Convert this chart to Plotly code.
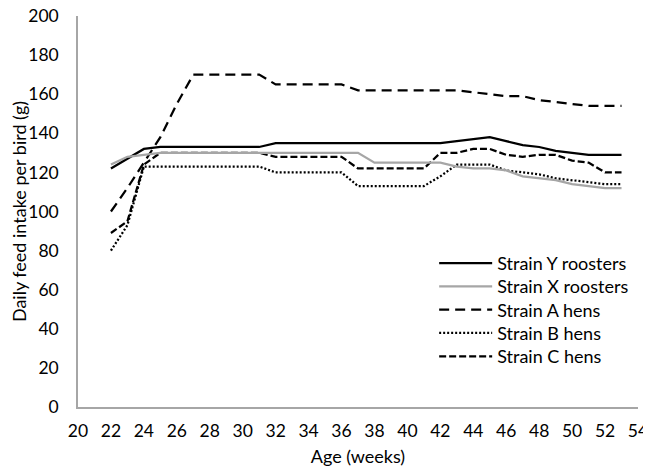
import plotly.graph_objects as go

# weeks of age
weeks = list(range(22, 54))

# daily feed intake per bird (g)
strain_y_roosters = [122, 127, 132, 133, 133, 133, 133, 133, 133, 133,
                     135, 135, 135, 135, 135, 135, 135, 135, 135, 135, 135,
                     136, 137, 138, 136, 134, 133, 131, 130, 129, 129, 129]
strain_x_roosters = [124, 128, 129, 130, 130, 130, 130, 130, 130, 130,
                     130, 130, 130, 130, 130, 130, 125, 125, 125, 125, 125,
                     123, 122, 122, 121, 118, 117, 116, 114, 113, 112, 112]
strain_a_hens = [100, 112, 125, 138, 155, 170, 170, 170, 170, 170,
                 165, 165, 165, 165, 165, 162, 162, 162, 162, 162, 162,
                 162, 161, 160, 159, 159, 157, 156, 155, 154, 154, 154]
strain_b_hens = [80, 93, 123, 123, 123, 123, 123, 123, 123, 123,
                 120, 120, 120, 120, 120, 113, 113, 113, 113, 113, 118,
                 124, 124, 124, 121, 120, 119, 117, 116, 115, 114, 114]
strain_c_hens = [89, 95, 124, 130, 130, 130, 130, 130, 130, 130,
                 128, 128, 128, 128, 128, 122, 122, 122, 122, 122, 130,
                 130, 132, 132, 129, 128, 129, 129, 126, 125, 120, 120]

FONT = "Lato, 'Open Sans', sans-serif"
FS = 17.5

# (name, values, colour, dash, legend row) - drawn in this order
series = [
    ("Strain A hens", strain_a_hens, "black", "10px,6px", 3),
    ("Strain B hens", strain_b_hens, "black", "2px,2px", 4),
    ("Strain C hens", strain_c_hens, "black", "7px,3px", 5),
    ("Strain Y roosters", strain_y_roosters, "black", "solid", 1),
    ("Strain X roosters", strain_x_roosters, "#a6a6a6", "solid", 2),
]

fig = go.Figure()
for name, vals, color, dash, row in series:
    fig.add_trace(go.Scatter(
        x=weeks, y=vals, name=name, mode="lines",
        line=dict(color=color, width=2.25, dash=dash),
        legend="legend" if row == 1 else f"legend{row}",
        showlegend=True,
    ))

axis_common = dict(
    showline=True, linecolor="#a6a6a6", linewidth=1.5,
    showgrid=False, zeroline=False, ticks="", automargin=False,
    ticklabeloverflow="allow",
    tickfont=dict(size=FS, color="black", family=FONT),
    title_font=dict(size=18, color="black", family=FONT),
)

fig.update_xaxes(range=[20, 54], dtick=2, tick0=20,
                 title_text="Age (weeks)", title_standoff=11,
                 ticklabelstandoff=7, **axis_common)
fig.update_yaxes(range=[0, 200], dtick=20,
                 title_text="Daily feed intake per bird (g)", title_standoff=3,
                 ticklabelstandoff=14, **axis_common)

# one single-entry legend per row so the row spacing matches the original
legend_rows = {}
for row in range(1, 6):
    key = "legend" if row == 1 else f"legend{row}"
    legend_rows[key] = dict(
        x=0.636, y=0.367 - (row - 1) * 0.0595,
        xanchor="left", yanchor="middle",
        font=dict(size=18, family=FONT, color="black"),
        bgcolor="rgba(0,0,0,0)", itemwidth=53,
    )

# page body has an 8px margin, so the figure is drawn 8px smaller
fig.update_layout(
    width=643, height=465,
    margin=dict(l=70, r=13, t=8, b=66),
    paper_bgcolor="white", plot_bgcolor="white",
    font=dict(family=FONT, color="black"),
    showlegend=True,
    **legend_rows,
)

fig.write_html("out.html")
